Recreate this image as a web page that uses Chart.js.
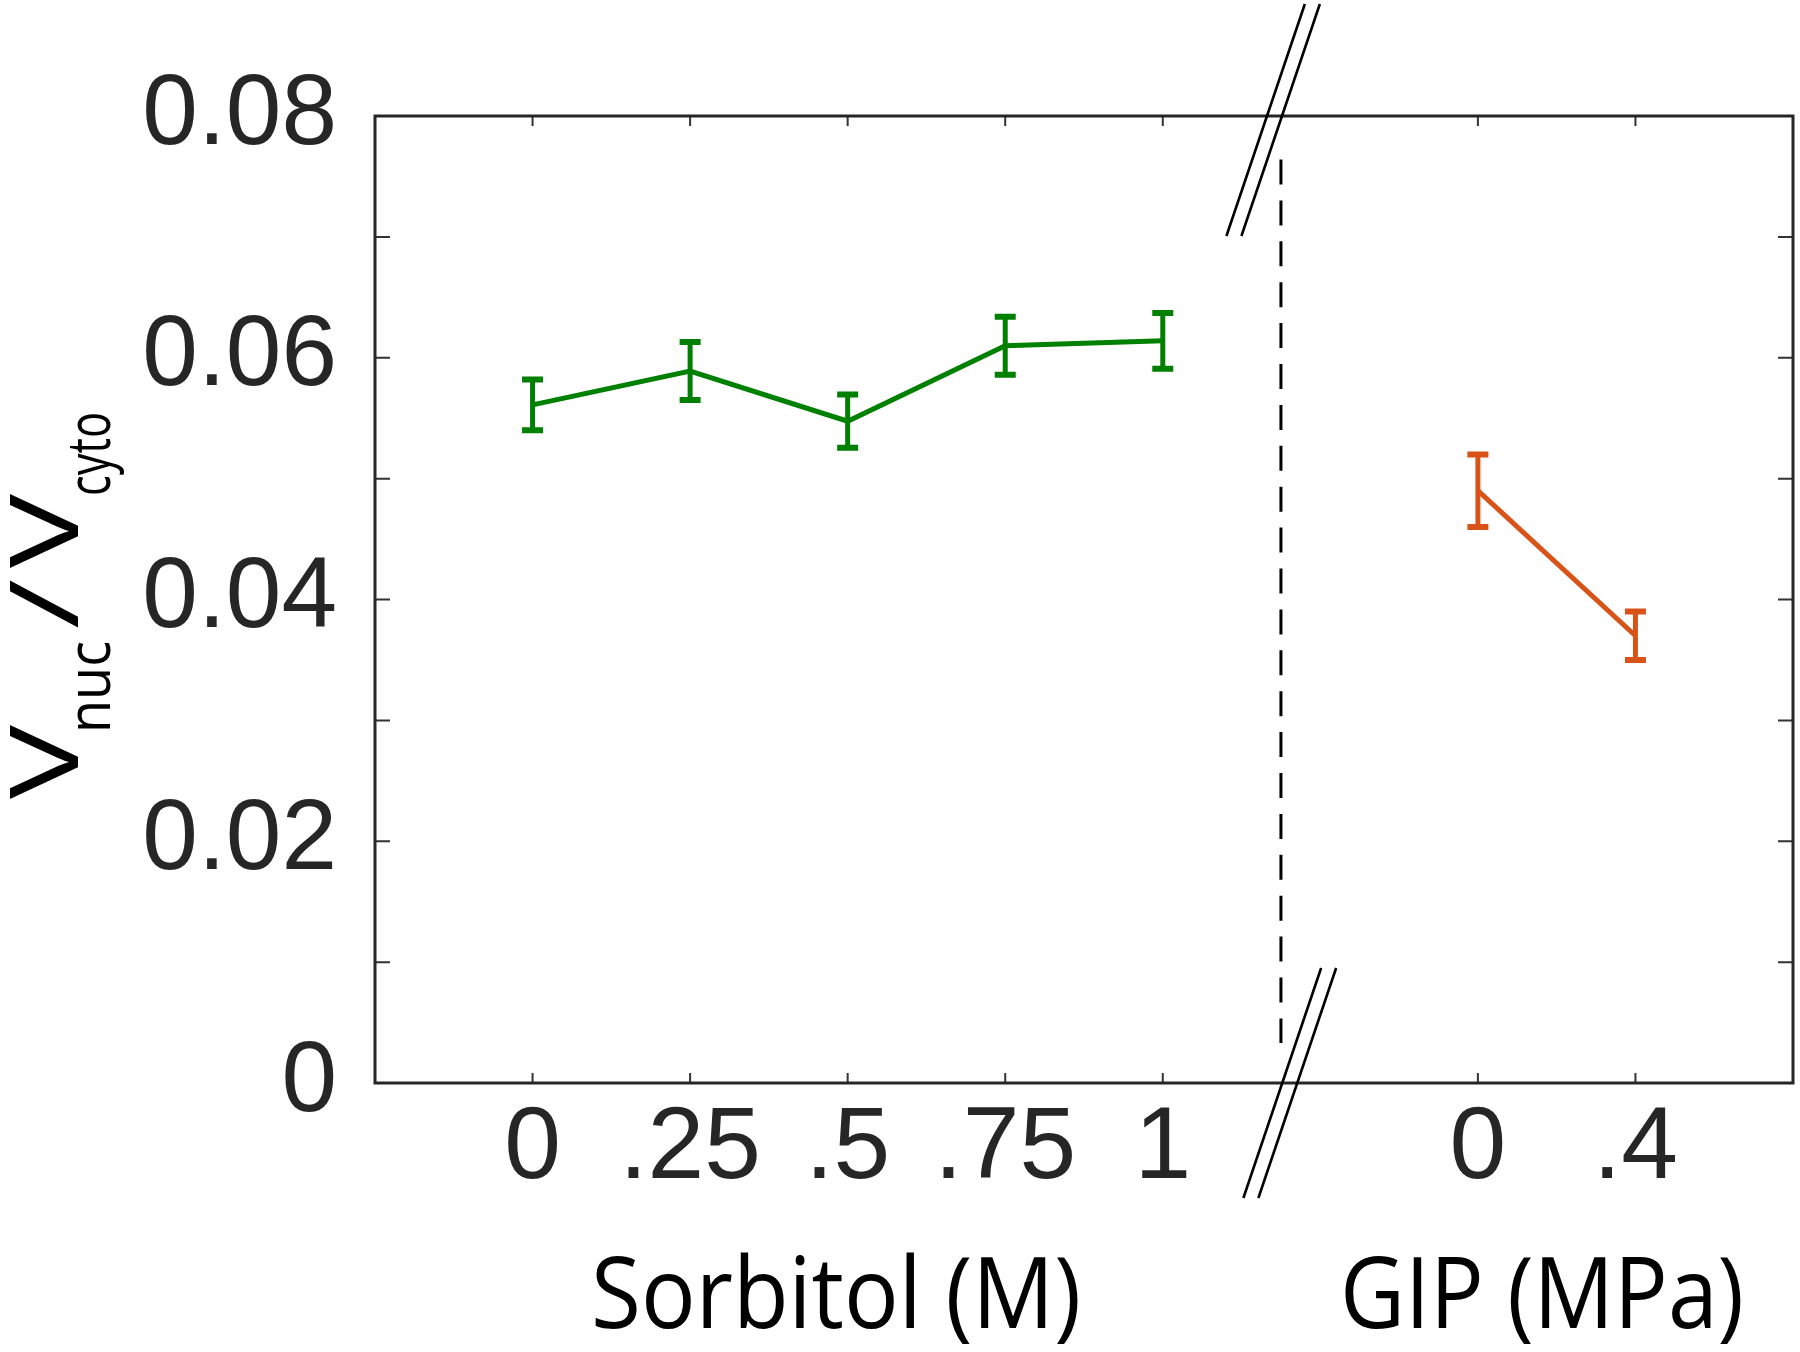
<!DOCTYPE html>
<html><head><meta charset="utf-8">
<script src="https://cdn.jsdelivr.net/npm/chart.js@4"></script>
<style>html,body{margin:0;padding:0;background:#fff}canvas{display:block}</style>
</head><body>
<canvas id="c" width="1800" height="1352" style="width:1800px;height:1352px"></canvas>
<script>
// ---- data ----
const sorbitolLabels = ['0', '.25', '.5', '.75', '1'];
const sorbitolMean = [0.0561, 0.0589, 0.05475, 0.0610, 0.0614];
const sorbitolErr = [0.0021, 0.0024, 0.0022, 0.0024, 0.0023];
const gipLabels = ['0', '.4'];
const gipMean = [0.0490, 0.0370];
const gipErr = [0.0030, 0.0020];
const sorbitolIdx = [0, 1, 2, 3, 4];
const gipIdx = [6, 7];
const dividerIdx = 4.75;
const dividerYs = [0.0764, 0.0033];
const yTickValues = [0, 0.01, 0.02, 0.03, 0.04, 0.05, 0.06, 0.07, 0.08];
const yTickLabels = ['0', '', '0.02', '', '0.04', '', '0.06', '', '0.08'];
const xTickIdx = sorbitolIdx.concat(gipIdx);
const xTickLabels = sorbitolLabels.concat(gipLabels);

const GREEN = '#008000', ORANGE = '#D95319', AXIS = '#262626';

const decor = {
  id: 'decor',
  beforeDraw(chart) {
    const ctx = chart.ctx;
    ctx.save(); ctx.fillStyle = '#fff'; ctx.fillRect(0, 0, chart.width, chart.height); ctx.restore();
  },
  afterDatasetsDraw(chart) {
    const {ctx, scales: {x, y}} = chart;
    function bars(idx, mean, err, color) {
      ctx.save();
      ctx.strokeStyle = color; ctx.lineCap = 'butt';
      idx.forEach((p, i) => {
        const px = x.getPixelForValue(p);
        const top = y.getPixelForValue(mean[i] + err[i]);
        const bot = y.getPixelForValue(mean[i] - err[i]);
        ctx.lineWidth = 5;
        ctx.beginPath(); ctx.moveTo(px, top); ctx.lineTo(px, bot); ctx.stroke();
        ctx.lineWidth = 6;
        ctx.beginPath(); ctx.moveTo(px - 10.5, top); ctx.lineTo(px + 10.5, top);
        ctx.moveTo(px - 10.5, bot); ctx.lineTo(px + 10.5, bot); ctx.stroke();
      });
      ctx.restore();
    }
    bars(sorbitolIdx, sorbitolMean, sorbitolErr, GREEN);
    bars(gipIdx, gipMean, gipErr, ORANGE);
  },
  afterDraw(chart) {
    const {ctx, chartArea: a, scales: {x, y}} = chart;
    ctx.save();
    // inward tick marks
    ctx.strokeStyle = '#333'; ctx.lineWidth = 2;
    ctx.beginPath();
    yTickValues.forEach(v => {
      const py = y.getPixelForValue(v);
      ctx.moveTo(a.left, py); ctx.lineTo(a.left + 15, py);
      ctx.moveTo(a.right, py); ctx.lineTo(a.right - 15, py);
    });
    xTickIdx.forEach(v => {
      const px = x.getPixelForValue(v);
      ctx.moveTo(px, a.bottom); ctx.lineTo(px, a.bottom - 10);
      ctx.moveTo(px, a.top); ctx.lineTo(px, a.top + 10);
    });
    ctx.stroke();
    // box
    ctx.strokeStyle = AXIS; ctx.lineWidth = 3;
    ctx.strokeRect(a.left, a.top, a.right - a.left, a.bottom - a.top);
    // axis breaks
    ctx.strokeStyle = '#000'; ctx.lineWidth = 2.6;
    const slope = -0.338;
    function brk(cx, cy, up, down) {
      ctx.beginPath();
      [-7.5, 7.5].forEach(o => {
        ctx.moveTo(cx + o + slope * (-up), cy - up);
        ctx.lineTo(cx + o + slope * down, cy + down);
      });
      ctx.stroke();
    }
    brk(x.getPixelForValue(4.709), a.top, 112, 120);
    brk(x.getPixelForValue(4.806), a.bottom, 115, 115);
    // group titles
    ctx.fillStyle = '#000';
    ctx.textBaseline = 'alphabetic';
    function title(txt, cx, base, w) {
      ctx.font = '98px "Open Sans"';
      const m = ctx.measureText(txt).width;
      ctx.save();
      ctx.translate(cx, base);
      ctx.scale(w / m, 1);
      ctx.textAlign = 'center';
      ctx.fillText(txt, 0, 0);
      ctx.restore();
    }
    title('Sorbitol (M)', 836, 1328, 490);
    title('GIP (MPa)', 1542, 1328, 404);
    // y label: V_nuc / V_cyto
    ctx.save();
    ctx.translate(78, 797);
    ctx.rotate(-Math.PI / 2);
    ctx.textAlign = 'left';
    function piece(txt, size, lx, ly, w) {
      ctx.font = size + 'px "Open Sans"';
      const m = ctx.measureText(txt).width;
      ctx.save(); ctx.translate(lx, ly); ctx.scale(w / m, 1); ctx.fillText(txt, 0, 0); ctx.restore();
    }
    piece('V', 95, -2, 0, 74);
    piece('nuc', 60, 64, 32, 92);
    piece('/', 95, 168, 0, 50);
    piece('V', 95, 229, 0, 74);
    piece('cyto', 60, 301, 32, 84);
    ctx.restore();
    ctx.restore();
  }
};

const tickFont = "'Liberation Sans', Arial, sans-serif";

new Chart(document.getElementById('c'), {
  type: 'line',
  data: {
    datasets: [
      {
        data: sorbitolIdx.map((p, i) => ({x: p, y: sorbitolMean[i]})),
        borderColor: GREEN, borderWidth: 5, pointRadius: 0, tension: 0, fill: false
      },
      {
        data: gipIdx.map((p, i) => ({x: p, y: gipMean[i]})),
        borderColor: ORANGE, borderWidth: 5, pointRadius: 0, tension: 0, fill: false
      },
      {
        data: dividerYs.map(v => ({x: dividerIdx, y: v})),
        borderColor: '#000', borderWidth: 3, borderDash: [25, 15.9], pointRadius: 0, fill: false
      }
    ]
  },
  options: {
    responsive: false,
    animation: false,
    events: [],
    layout: {padding: {top: 116, right: 7, left: 0, bottom: 0}},
    plugins: {legend: {display: false}, tooltip: {enabled: false}},
    scales: {
      x: {
        type: 'linear', min: -1, max: 8,
        grid: {display: false, drawTicks: false},
        border: {display: false},
        afterBuildTicks: s => { s.ticks = xTickIdx.map(v => ({value: v})); },
        afterFit: s => { s.height = 269; },
        ticks: {
          autoSkip: false, maxRotation: 0, padding: 6,
          color: AXIS, font: {family: tickFont, size: 102},
          callback: v => { const i = xTickIdx.indexOf(v); return i >= 0 ? xTickLabels[i] : ''; }
        }
      },
      y: {
        type: 'linear', min: 0, max: 0.08,
        grid: {display: false, drawTicks: false},
        border: {display: false},
        afterBuildTicks: s => { s.ticks = yTickValues.map(v => ({value: v})); },
        afterFit: s => { s.width = 375; },
        ticks: {
          autoSkip: false, padding: 38,
          color: AXIS, font: {family: tickFont, size: 100},
          callback: (v, i) => yTickLabels[i]
        }
      }
    }
  },
  plugins: [decor]
});
</script>
</body></html>
